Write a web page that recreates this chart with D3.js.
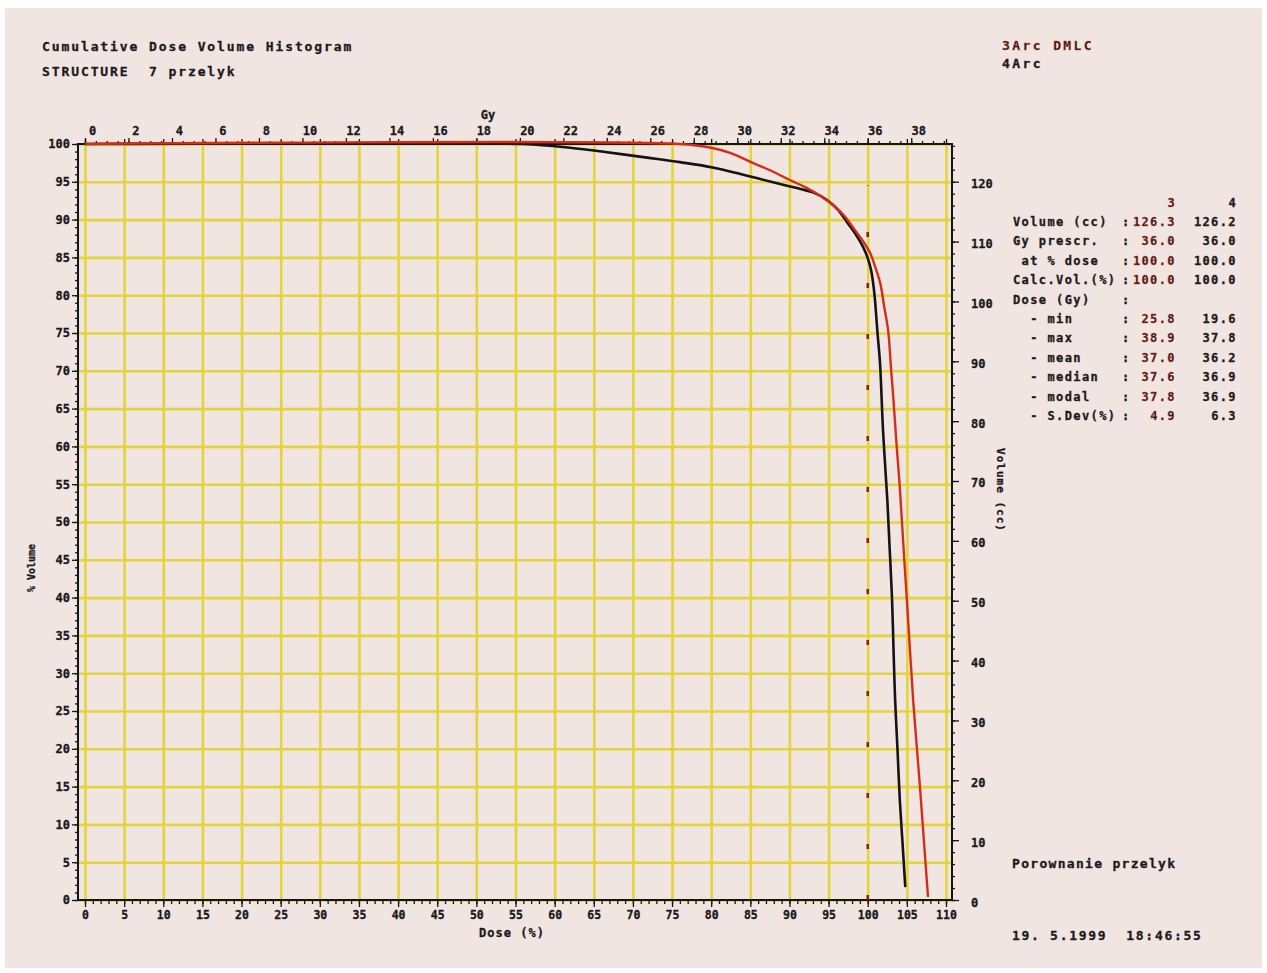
<html>
<head>
    <title>Cumulative Dose Volume Histogram</title>
    <meta charset="UTF-8" />
    <script src="https://d3js.org/d3.v7.min.js"></script>

    <style>
        body { margin: 0; background: #ffffff; }
        text {
            font-family: "DejaVu Sans Mono", monospace;
            font-weight: bold;
            fill: #1c1a1c;
            white-space: pre;
            stroke-width: 0.3px;
        }
        .axis path { stroke: none; }
        .axis line { stroke: #161616; stroke-width: 1.3; }
        .gridlines line { stroke: #e4d43c; stroke-width: 2.6; }
        .gridlines .domain { stroke: none; }
    </style>
</head>

<body>
    <svg height="973" width="1267" id="svg1"></svg>

    <script>
        // ---- data ----
        const doseTicks = [0, 5, 10, 15, 20, 25, 30, 35, 40, 45, 50, 55, 60, 65, 70, 75, 80, 85, 90, 95, 100, 105, 110];
        const gyTicks = [0, 2, 4, 6, 8, 10, 12, 14, 16, 18, 20, 22, 24, 26, 28, 30, 32, 34, 36, 38];
        const volTicks = [0, 5, 10, 15, 20, 25, 30, 35, 40, 45, 50, 55, 60, 65, 70, 75, 80, 85, 90, 95, 100];
        const ccTicks = [0, 10, 20, 30, 40, 50, 60, 70, 80, 90, 100, 110, 120];

        const prescribedGy = 36.0;
        const totalCC = 126.3;

        // 3Arc DMLC (red): dose in %, volume in %
        const arc3Dose = [0, 76, 80, 82.5, 85.3, 87.8, 90.1, 92.2, 94.0, 95.6, 97.0, 98.1, 99.3, 100.3, 101.0, 101.6,
                          102.1, 102.6, 103.0, 103.3, 103.7, 104.1, 104.55, 105.0, 105.4, 105.8, 106.25, 106.7, 107.2, 107.7];
        const arc3Vol  = [100, 100, 99.5, 98.8, 97.5, 96.4, 95.2, 94.2, 93.1, 91.9, 90.5, 89.0, 87.3, 85.6, 83.6, 81.6,
                          78.5, 75.4, 70, 66, 60, 54.6, 47, 39.7, 33, 26.5, 20.5, 14.6, 7.5, 0.4];

        // 4Arc (black)
        const arc4Dose = [0, 56, 59, 62, 66, 71.8, 76, 80.2, 84.6, 88.8, 91.2, 93, 94.8, 96.2, 97.4, 98.5, 99.4, 100.0,
                          100.45, 100.85, 101.25, 101.57, 101.96, 102.5, 102.8, 103.1, 103.3, 103.5, 103.8, 104.1, 104.45, 104.8];
        const arc4Vol  = [100, 100, 99.8, 99.5, 99.0, 98.2, 97.6, 96.9, 95.8, 94.7, 94.1, 93.6, 92.6, 91.3, 89.6, 88.0, 86.4, 84.9,
                          83.2, 80.2, 75, 71, 62, 53, 46.5, 40, 33, 26.5, 20, 13.2, 7.5, 1.7];

        // reference line at 100 % dose
        const refDose = [100, 100];
        const refVol = [0, 94.5];

        const statLabels = ["Volume (cc)", "Gy prescr.", " at % dose", "Calc.Vol.(%)", "Dose (Gy)",
                            "  - min", "  - max", "  - mean", "  - median", "  - modal", "  - S.Dev(%)"];
        const stats3 = ["126.3", "36.0", "100.0", "100.0", "", "25.8", "38.9", "37.0", "37.6", "37.8", "4.9"];
        const stats4 = ["126.2", "36.0", "100.0", "100.0", "", "19.6", "37.8", "36.2", "36.9", "36.9", "6.3"];

        const red = "#d42e1a";
        const textRed = "#e03a22";
        const black = "#141414";

        // ---- setup ----
        const svg1 = d3.select("svg#svg1");
        const plot = {left: 78, right: 952, top: 144, bottom: 900};

        svg1.append("rect")
            .attr("x", 5).attr("y", 8).attr("width", 1257).attr("height", 960)
            .attr("fill", "#f1e5e2");

        const xScale = d3.scaleLinear().domain([0, 110]).range([85, 946]);
        const gyScale = d3.scaleLinear().domain([0, 110 * prescribedGy / 100]).range([85, 946]);
        const yScale = d3.scaleLinear().domain([0, 100]).range([plot.bottom, plot.top]);
        const ccScale = d3.scaleLinear().domain([0, totalCC]).range([plot.bottom, plot.top]);

        // gridlines
        let grid = svg1.append("g").attr("id", "grid");
        grid.append("g")
            .attr("class", "gridlines")
            .attr("transform", "translate(0," + plot.bottom + ")")
            .call(d3.axisBottom(xScale).tickValues(doseTicks)
                  .tickSize(-(plot.bottom - plot.top)).tickFormat(""));
        grid.append("g")
            .attr("class", "gridlines")
            .attr("transform", "translate(" + plot.left + ",0)")
            .call(d3.axisLeft(yScale).tickValues(volTicks)
                  .tickSize(-(plot.right - plot.left)).tickFormat(""));

        // frame
        svg1.append("rect")
            .attr("x", plot.left).attr("y", plot.top)
            .attr("width", plot.right - plot.left).attr("height", plot.bottom - plot.top)
            .attr("fill", "none").attr("stroke", black).attr("stroke-width", 2);

        let labels = svg1.append("g").attr("id", "labels");

        // bottom axis (dose %)
        labels.append("g").attr("class", "axis")
              .attr("transform", "translate(0," + plot.bottom + ")")
              .call(d3.axisBottom(xScale).tickValues(xScale.ticks(110)).tickSize(4).tickFormat(""));
        labels.append("g").attr("class", "axis")
              .attr("transform", "translate(0," + plot.bottom + ")")
              .call(d3.axisBottom(xScale).tickValues(doseTicks).tickSize(7).tickPadding(4))
              .selectAll("text").style("font-size", "11.5px").attr("fill", black);

        // top axis (Gy)
        labels.append("g").attr("class", "axis")
              .attr("transform", "translate(0," + plot.top + ")")
              .call(d3.axisTop(gyScale).tickValues(gyScale.ticks(80)).tickSize(3).tickFormat(""));
        labels.append("g").attr("class", "axis")
              .attr("transform", "translate(0," + plot.top + ")")
              .call(d3.axisTop(xScale).tickValues(xScale.ticks(22)).tickSize(5).tickFormat(""));
        labels.append("g").attr("class", "axis")
              .attr("transform", "translate(0," + plot.top + ")")
              .call(d3.axisTop(gyScale).tickValues(gyTicks).tickSize(6).tickPadding(3))
              .selectAll("text").style("font-size", "12px").attr("dx", 7).attr("fill", black);

        // left axis (% volume)
        labels.append("g").attr("class", "axis")
              .attr("transform", "translate(" + plot.left + ",0)")
              .call(d3.axisLeft(yScale).tickValues(yScale.ticks(100)).tickSize(3).tickFormat(""));
        labels.append("g").attr("class", "axis")
              .attr("transform", "translate(" + plot.left + ",0)")
              .call(d3.axisLeft(yScale).tickValues(volTicks).tickSize(6).tickPadding(2))
              .selectAll("text").style("font-size", "12px").attr("fill", black);

        // right axis (cc)
        labels.append("g").attr("class", "axis")
              .attr("transform", "translate(" + plot.right + ",0)")
              .call(d3.axisRight(ccScale).tickValues(ccScale.ticks(60)).tickSize(3).tickFormat(""));
        labels.append("g").attr("class", "axis")
              .attr("transform", "translate(" + plot.right + ",0)")
              .call(d3.axisRight(ccScale).tickValues(ccTicks).tickSize(7).tickPadding(12))
              .selectAll("text").style("font-size", "12px").attr("fill", black)
              .attr("text-anchor", "start").attr("dy", "0.5em");

        // axis titles
        labels.append("text").attr("x", 488).attr("y", 119).attr("text-anchor", "middle")
              .style("font-size", "12px").text("Gy");
        labels.append("text").attr("x", 512).attr("y", 937).attr("text-anchor", "middle")
              .style("font-size", "12px").style("letter-spacing", "1px").text("Dose (%)");
        labels.append("text").attr("transform", "translate(35,568) rotate(-90)")
              .attr("text-anchor", "middle").style("font-size", "10px").text("% Volume");
        labels.append("text").attr("transform", "translate(997,490) rotate(90)")
              .attr("text-anchor", "middle").style("font-size", "11px").style("letter-spacing", "1px")
              .text("Volume (cc)");

        // curves
        let chartArea = svg1.append("g").attr("id", "curves");
        const lineGen = d3.line()
            .x(d => xScale(d[0]))
            .y(d => yScale(d[1]))
            .curve(d3.curveCatmullRom.alpha(0.5));

        chartArea.append("path")
            .attr("d", d3.line().x(d => xScale(d[0])).y(d => yScale(d[1]))(d3.zip(refDose, refVol)))
            .attr("fill", "none").attr("stroke", "#8a1f14").attr("stroke-width", 2.5)
            .attr("stroke-dasharray", "5,46");

        chartArea.append("path")
            .attr("d", lineGen(d3.zip(arc4Dose, arc4Vol)))
            .attr("fill", "none").attr("stroke", black).attr("stroke-width", 2.6);
        chartArea.append("path")
            .attr("d", lineGen(d3.zip(arc3Dose, arc3Vol)))
            .attr("fill", "none").attr("stroke", red).attr("stroke-width", 2.4);

        // header texts
        const head = svg1.append("g").attr("id", "head")
            .style("font-size", "13px").style("letter-spacing", "1.9px");
        head.append("text").attr("x", 42).attr("y", 51).text("Cumulative Dose Volume Histogram");
        head.append("text").attr("x", 42).attr("y", 76).text("STRUCTURE  7 przelyk");
        head.append("text").attr("x", 1002).attr("y", 50).attr("fill", textRed)
            .style("letter-spacing", "2.4px").text("3Arc DMLC");
        head.append("text").attr("x", 1002).attr("y", 68)
            .style("letter-spacing", "2.4px").text("4Arc");
        head.append("text").attr("x", 1012).attr("y", 868)
            .style("letter-spacing", "1.3px").text("Porownanie przelyk");
        head.append("text").attr("x", 1012).attr("y", 940)
            .style("letter-spacing", "1.7px").text("19. 5.1999  18:46:55");

        // statistics table
        const table = svg1.append("g").attr("id", "stats")
            .style("font-size", "12px").style("letter-spacing", "1.4px");
        const rowY = d3.scaleLinear().domain([0, 10]).range([226, 420]);

        table.append("text").attr("x", 1176).attr("y", 207).attr("text-anchor", "end")
             .attr("fill", textRed).text("3");
        table.append("text").attr("x", 1237).attr("y", 207).attr("text-anchor", "end").text("4");

        table.selectAll("text.lab").data(statLabels).join("text")
             .attr("class", "lab").attr("x", 1013).attr("y", (d, i) => rowY(i)).text(d => d);
        table.selectAll("text.col").data(statLabels).join("text")
             .attr("class", "col").attr("x", 1122).attr("y", (d, i) => rowY(i)).text(":");
        table.selectAll("text.s3").data(stats3).join("text")
             .attr("class", "s3").attr("x", 1176).attr("y", (d, i) => rowY(i))
             .attr("text-anchor", "end").attr("fill", textRed).text(d => d);
        table.selectAll("text.s4").data(stats4).join("text")
             .attr("class", "s4").attr("x", 1237).attr("y", (d, i) => rowY(i))
             .attr("text-anchor", "end").text(d => d);

        // thicken all text a little, in its own colour, like the old plotter font
        svg1.selectAll("text").each(function() {
            const t = d3.select(this);
            t.attr("stroke", t.attr("fill") || "#1c1a1c");
        });
    </script>
</body>
</html>
